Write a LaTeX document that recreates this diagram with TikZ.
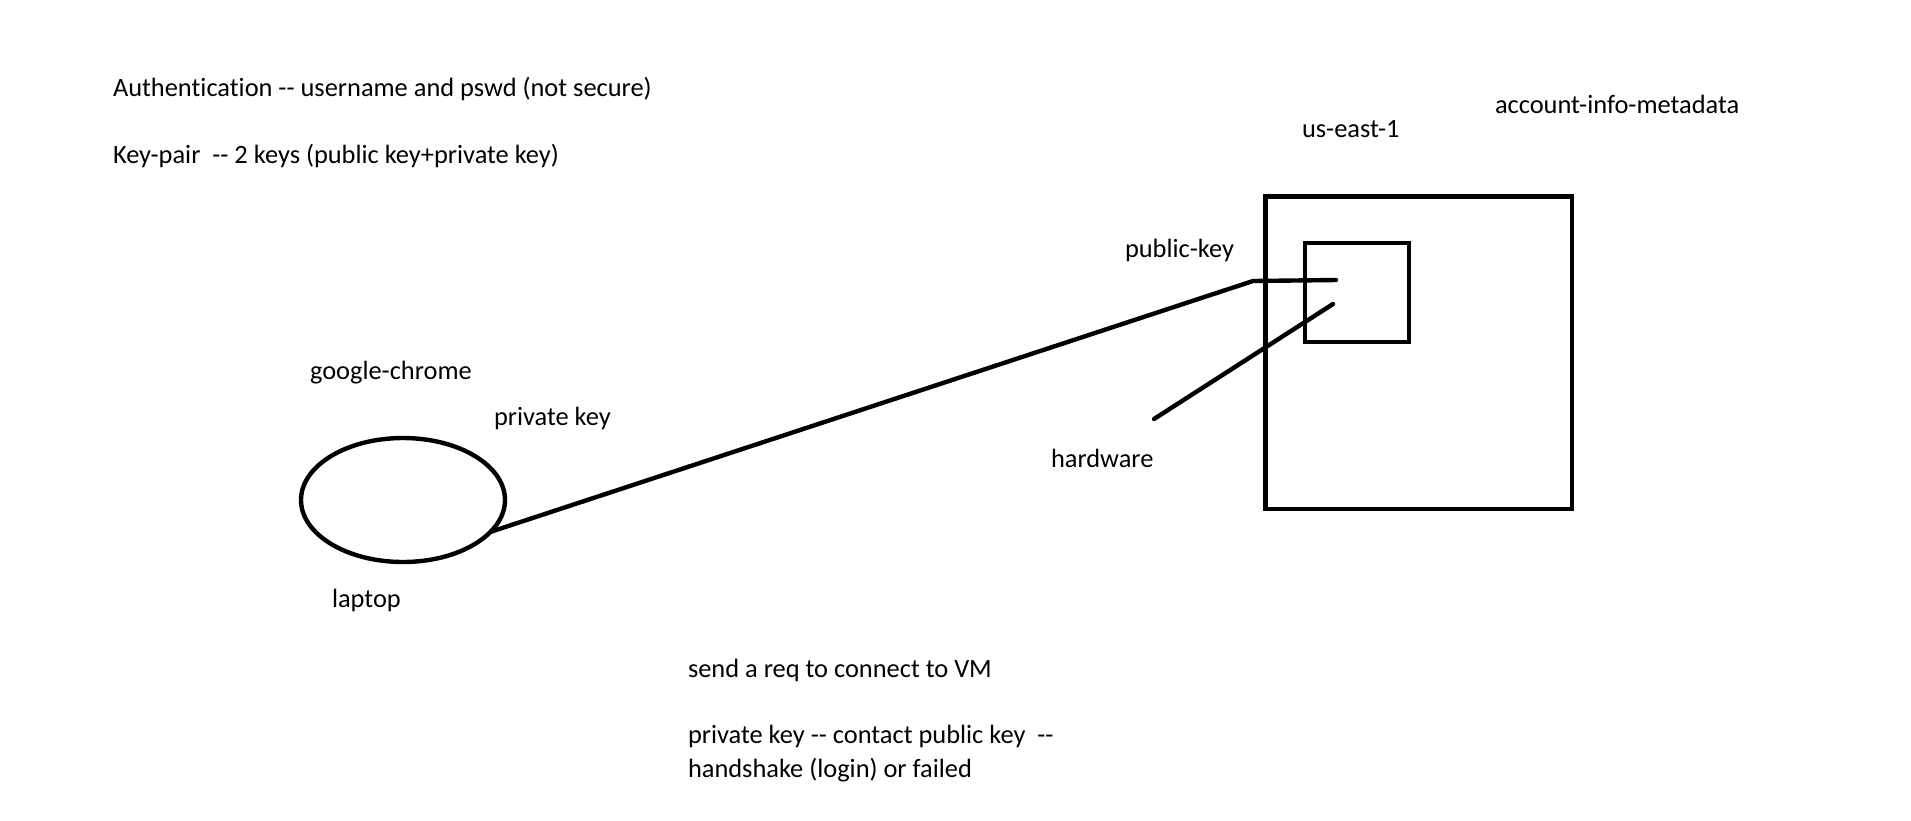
\documentclass[tikz,border=0pt]{standalone}
\usepackage{fontspec}
\setmainfont{Carlito}[Ligatures={NoCommon}]
\usetikzlibrary{shapes.geometric}
\begin{document}
\begin{tikzpicture}[x=0.5pt,y=-0.5pt,
  lbl/.style={anchor=base west, inner sep=0pt, outer sep=0pt, font=\fontsize{13.2}{16}\selectfont},
  ln/.style={line width=2.2pt, line cap=round, line join=round},
  boxshape/.style={draw, line width=2.2pt, rectangle, inner sep=0pt, outer sep=0pt},
  ovalshape/.style={draw, line width=2.2pt, ellipse, inner sep=0pt, outer sep=0pt, minimum width=102pt, minimum height=62pt}]
\fill[white] (0,0) rectangle (1911,820);
\useasboundingbox (0,0) rectangle (1911,820);
% texts
\node[lbl] (auth) at (113,96) {Authentication -{}- username and pswd (not secure)};
\node[lbl] (keypair) at (113,163) {Key-pair\ \ -{}- 2 keys (public key+private key)};
\node[lbl] (acct) at (1495,113) {account-info-metadata};
\node[lbl] (region) at (1302,137) {us-east-1};
\node[lbl] (pubkey) at (1125,257) {public-key};
\node[lbl] (chrome) at (310,379) {google-chrome};
\node[lbl] (privkey) at (494,425) {private key};
\node[lbl] (laptoplbl) at (332,607) {laptop};
\node[lbl] (hwlbl) at (1051,467) {hardware};
\node[lbl] (send) at (688,677) {send a req to connect to VM};
\node[lbl] (contact) at (688,743) {private key -{}- contact public key\ \ -{}-};
\node[lbl] (hand) at (688,777) {handshake (login) or failed};
% shapes
\node[ovalshape] (laptop) at (403,500) {};
\node[boxshape, minimum width=153.25pt, minimum height=156.2pt] (vmbox) at (1418.75,352.85) {};
\node[boxshape, minimum width=52.15pt, minimum height=49.35pt] (hwbox) at (1356.85,292.35) {};
% connectors
\coordinate (bend) at (1253,281);
\coordinate (keyend) at (1336,280);
\coordinate (hwin) at (1333,304);
\coordinate (hwout) at (1154,419);
\draw[ln] (laptop.-20) -- (bend) -- (keyend);
\draw[ln] (hwin) -- (hwout);
\end{tikzpicture}
\end{document}
